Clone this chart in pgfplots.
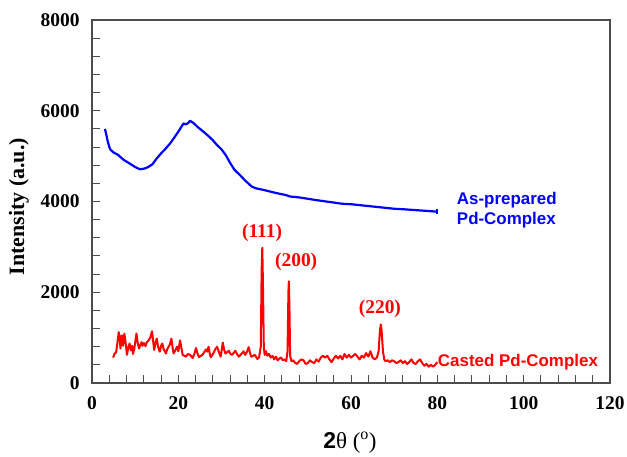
\documentclass[border=0pt]{standalone}
\usepackage{fontspec}
\setmainfont{Liberation Serif}
\setsansfont{Liberation Sans}
\usepackage{pgfplots}
\pgfplotsset{compat=1.18}

\begin{document}
\begin{tikzpicture}
\useasboundingbox (-92bp,-74bp) rectangle (535bp,383bp);
\begin{axis}[
  scale only axis,
  width=518bp, height=363bp,
  xmin=0, xmax=120, ymin=0, ymax=8000,
  xtick={0,20,...,120}, ytick={0,2000,...,8000},
  minor x tick num=4, minor y tick num=4,
  tick align=inside, tick pos=left,
  major tick length=8bp, minor tick length=8bp,
  axis line style={draw=black!70, line width=1.4bp},
  every tick/.style={draw=black!70, line width=1bp},
  /pgf/number format/assume math mode=true,
  /pgf/number format/1000 sep={},
  tick label style={font=\fontsize{19.5}{22}\selectfont\bfseries},
  yticklabel style={xshift=-9bp},
  xticklabel style={yshift=-10bp},
  xlabel={{\sffamily\bfseries 2}θ (\textsuperscript{o})},
  xlabel style={font=\fontsize{23}{26}\selectfont, at={(axis description cs:0.498,-0.165)}, anchor=center},
  ylabel={Intensity (a.u.)},
  ylabel style={font=\fontsize{22}{25}\selectfont\bfseries, at={(axis description cs:-0.141,0.486)}, anchor=center, rotate=0},
  clip=false,
  every axis plot/.append style={line join=round},
]
% As-prepared Pd-Complex
\addplot[blue, line width=2.2bp] coordinates {
(3.0,5600) (3.3,5480) (3.7,5300) (4.2,5150) (5,5080) (6,5030) (7.3,4920)
(8,4880) (9,4820) (10,4760) (11.1,4710) (11.8,4720) (12.3,4730) (13,4760)
(14,4820) (15,4950) (16,5060) (17,5160) (18.1,5280) (19,5400) (20,5540)
(21.2,5720) (21.7,5700) (22.3,5730) (22.7,5780) (23.5,5730) (24.5,5640)
(25.8,5540) (27,5440) (28,5350) (28.9,5250) (30,5150) (31,5020) (32,4850)
(33,4700) (34.3,4580) (35.5,4460) (37,4330) (38,4290) (40,4250) (41.2,4220)
(43,4180) (45,4140) (45.9,4110) (48,4090) (50,4060) (52,4030) (55,3990)
(58,3950) (60,3940) (62,3920) (65,3890) (68,3860) (70,3840) (72,3830)
(75,3810) (78,3790) (80,3775)
};
\addplot[blue, line width=2bp] coordinates {(80,3720) (80,3830)};
% Casted Pd-Complex
\addplot[red, line width=2bp] coordinates {
(4.9,560) (5.2,640) (5.6,680) (5.9,900) (6.2,1120) (6.4,1000) (6.6,760)
(6.9,1050) (7.2,820) (7.5,1090) (7.8,880) (8.1,620) (8.4,780) (8.7,870)
(9.0,720) (9.3,820) (9.5,640) (9.8,760) (10.1,960) (10.3,1090) (10.6,880)
(10.9,760) (11.2,840) (11.5,900) (11.7,820) (12.0,880) (12.4,810) (12.7,900)
(13.1,940) (13.5,1000) (13.9,1140) (14.2,900) (14.4,730) (14.7,880) (15.0,980)
(15.3,800) (15.7,690) (16.0,820) (16.3,870) (16.6,740) (16.9,700) (17.1,650)
(17.5,760) (18.0,840) (18.4,980) (18.7,760) (18.9,650) (19.3,720) (19.7,800)
(20.0,700) (20.4,940) (20.7,780) (21.0,620) (21.4,600) (21.8,580) (22.2,640)
(22.7,620) (23.0,590) (23.3,550) (23.7,640) (24.1,770) (24.4,660) (24.8,570)
(25.2,600) (25.6,620) (26.0,680) (26.4,740) (26.7,690) (27.0,800) (27.3,640)
(27.5,570) (27.9,620) (28.3,690) (28.6,750) (29.0,800) (29.4,680) (29.8,580)
(30.0,700) (30.3,890) (30.6,740) (30.9,650) (31.3,680) (31.7,710) (32.0,650)
(32.4,620) (32.8,660) (33.2,710) (33.6,640) (34.0,580) (34.4,620) (34.7,650)
(35.1,700) (35.5,620) (35.9,690) (36.3,790) (36.6,660) (36.9,580) (37.3,600)
(37.7,620) (38.0,580) (38.3,530) (38.7,560) (39.1,800) (39.3,2500) (39.45,2980)
(39.6,2200) (39.8,800) (40.0,620) (40.3,700) (40.6,600) (41.0,640) (41.4,560)
(41.8,600) (42.2,520) (42.6,580) (43.0,500) (43.4,540) (43.8,560) (44.2,500)
(44.6,520) (45.0,480) (45.3,700) (45.5,2000) (45.6,2240) (45.75,1600) (45.9,600)
(46.2,480) (46.6,500) (47.0,450) (47.5,420) (48.0,480) (48.5,520) (49.0,500)
(49.5,420) (50.0,440) (50.5,500) (51.0,460) (51.5,440) (52.0,520) (52.5,470)
(53.0,560) (53.5,600) (54.0,560) (54.5,600) (55.0,520) (55.5,460) (56.0,540)
(56.5,600) (57.0,540) (57.5,600) (58.0,520) (58.5,640) (59.0,560) (59.5,620)
(60.0,560) (60.5,600) (61.0,640) (61.5,580) (62.0,520) (62.5,600) (63.0,560)
(63.5,660) (64.0,580) (64.5,700) (65.0,560) (65.5,520) (66.0,560) (66.4,700)
(66.7,1150) (66.9,1290) (67.1,1150) (67.4,700) (67.7,520) (68.0,480) (68.5,500)
(69.0,460) (69.5,500) (70.0,480) (70.5,440) (71.0,460) (71.5,500) (72.0,440)
(72.5,480) (73.0,420) (73.5,460) (74.0,520) (74.5,440) (75.0,420) (75.5,480)
(76.0,520) (76.5,440) (77.0,380) (77.5,420) (78.0,360) (78.5,400) (79.0,360)
(79.5,400) (80.0,460)
};
\node[red, font=\fontsize{19.5}{22}\selectfont\bfseries] at (axis cs:39.4,3305) {(111)};
\node[red, font=\fontsize{19.5}{22}\selectfont\bfseries] at (axis cs:47.3,2666) {(200)};
\node[red, font=\fontsize{19.5}{22}\selectfont\bfseries] at (axis cs:66.7,1630) {(220)};
\node[red, font=\fontsize{17}{20}\selectfont\sffamily\bfseries, anchor=west, inner sep=0pt] at (axis cs:80.1,470) {Casted Pd-Complex};
\node[blue, font=\fontsize{17}{20}\selectfont\sffamily\bfseries, anchor=west, inner sep=0pt, align=left] at (axis cs:84.5,3812) {As-prepared\\Pd-Complex};
\end{axis}
\end{tikzpicture}
\end{document}
